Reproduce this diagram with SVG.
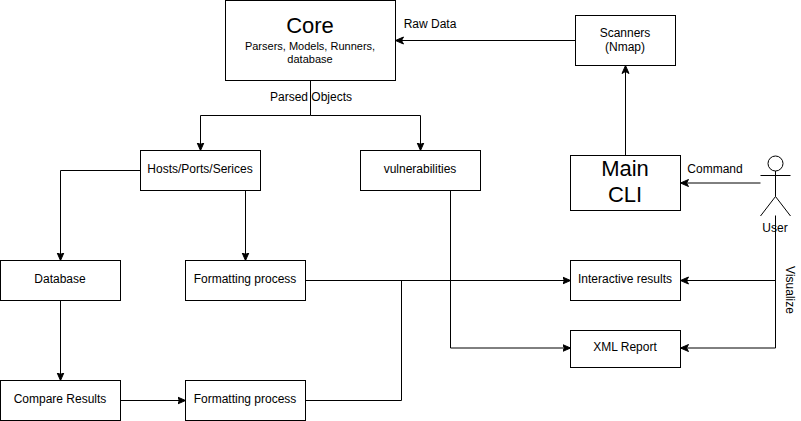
<svg xmlns="http://www.w3.org/2000/svg" width="801" height="421" viewBox="0 0 801 421">
<style>
text{font-family:"Liberation Sans",Arial,sans-serif;fill:#000;text-anchor:middle}
.b,.c,.l{transform:translate(.5px,.5px);stroke:#000;stroke-width:1}
.b{fill:#fff}
.t{font-size:12px}
.s{font-size:11px}
.c{fill:none;marker-end:url(#a)}
.l{fill:none}
.lg{font-size:22px}
</style>
<defs><marker id="a" markerUnits="userSpaceOnUse" markerWidth="9" markerHeight="9" refX="8" refY="4.5" orient="auto"><path d="M0 1L8 4.500L0 8L2 4.500Z" fill="#000" stroke="#000" stroke-width="1"/></marker></defs>
<rect width="801" height="421" fill="#fff"/>
<g id="connectors">
<path class="c" d="M575 40H395"/>
<path class="l" d="M310 80V115"/>
<path class="c" d="M310 115H200V150"/>
<path class="c" d="M310 115H420V150"/>
<path class="c" d="M140 170H60V260"/>
<path class="c" d="M245 190V260"/>
<path class="c" d="M60 300V380"/>
<path class="c" d="M120 400H185"/>
<path class="c" d="M305 280H570"/>
<path class="l" d="M305 400H401V280"/>
<path class="c" d="M450 190V347.500H570"/>
<path class="c" d="M625 155V65"/>
<path class="c" d="M760 182.500H680"/>
<path class="c" d="M775 280H680"/>
<path class="c" d="M775 215V347.500H680"/>
</g>
<g id="core"><rect class="b" x="225" y="0" width="170" height="80"/><text class="lg" x="310" y="33">Core</text><text class="s" x="310" y="50">Parsers, Models, Runners,</text><text class="s" x="310" y="63">database</text></g>
<g id="scanners"><rect class="b" x="575" y="15" width="100" height="50"/><text class="t" x="625" y="37">Scanners</text><text class="t" x="625" y="51">(Nmap)</text></g>
<g id="hosts"><rect class="b" x="140" y="150" width="120" height="40"/><text class="t" x="200" y="173">Hosts/Ports/Serices</text></g>
<g id="vulns"><rect class="b" x="360" y="150" width="120" height="40"/><text class="t" x="420" y="173">vulnerabilities</text></g>
<g id="cli"><rect class="b" x="570" y="155" width="110" height="55"/><text class="lg" x="625" y="176">Main</text><text class="lg" x="625" y="202">CLI</text></g>
<g id="database"><rect class="b" x="0" y="260" width="120" height="40"/><text class="t" x="60" y="283">Database</text></g>
<g id="format1"><rect class="b" x="185" y="260" width="120" height="40"/><text class="t" x="245" y="283">Formatting process</text></g>
<g id="compare"><rect class="b" x="0" y="380" width="120" height="40"/><text class="t" x="60" y="403">Compare Results</text></g>
<g id="format2"><rect class="b" x="185" y="380" width="120" height="40"/><text class="t" x="245" y="403">Formatting process</text></g>
<g id="interactive"><rect class="b" x="570" y="260" width="110" height="40"/><text class="t" x="625" y="283">Interactive results</text></g>
<g id="xml"><rect class="b" x="570" y="330" width="110" height="37"/><text class="t" x="625" y="351">XML Report</text></g>
<g id="user"><circle class="b" cx="775" cy="163" r="7.500"/><path class="l" d="M775 170.500V196M760 175H790M775 196L760 215.500M775 196L790 215.500"/><text class="t" x="775" y="232">User</text></g>
<g id="labels"><text class="t" x="430" y="28">Raw Data</text><text class="t" x="311" y="101">Parsed Objects</text><text class="t" x="715" y="173">Command</text><text class="t" transform="translate(786 290) rotate(90)">Visualize</text></g>
</svg>
